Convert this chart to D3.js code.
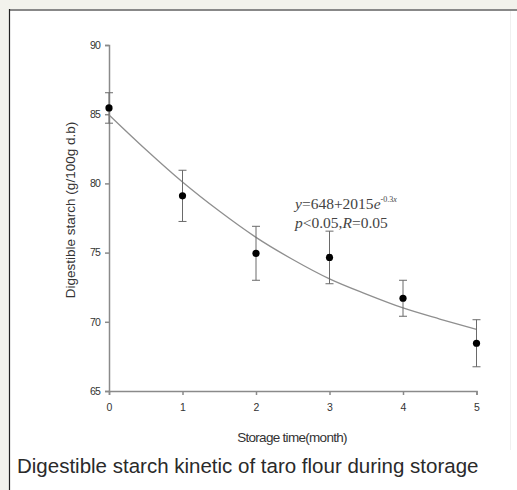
<!DOCTYPE html>
<html>
<head>
<meta charset="utf-8">
<script src="https://cdn.jsdelivr.net/npm/d3@7"></script>
<style>
  body { margin: 0; background: #f2f2ec; }
  svg { display: block; }
</style>
</head>
<body>
<svg id="chart" width="517" height="490"></svg>
<script>
// measured points (month, digestible starch, std error)
var months = [0, 1, 2, 3, 4, 5]
var starch = [85.45, 79.1, 74.95, 74.65, 71.7, 68.45]
var errs = [1.1, 1.85, 1.95, 1.9, 1.3, 1.7]

// fitted curve
var fitX = [0, 0.5, 1, 1.5, 2, 2.5, 3, 3.5, 4, 4.5, 5]
var fitY = [84.95, 82.45, 80.1, 78.0, 76.1, 74.5, 73.1, 72.0, 71.0, 70.2, 69.45]

var xTicks = [0, 1, 2, 3, 4, 5]
var yTicks = [65, 70, 75, 80, 85, 90]

var svg = d3.select('#chart')

// white panel with frame
svg.append('rect').attr('x', 9).attr('y', 9).attr('width', 508).attr('height', 481).attr('fill', '#fff')
svg.append('line').attr('x1', 9).attr('x2', 517).attr('y1', 10).attr('y2', 10)
  .attr('stroke', '#888').attr('stroke-width', 2)
svg.append('line').attr('x1', 9.5).attr('x2', 9.5).attr('y1', 9).attr('y2', 490)
  .attr('stroke', '#222').attr('stroke-width', 1.2)
svg.append('line').attr('x1', 510.5).attr('x2', 510.5).attr('y1', 11).attr('y2', 450)
  .attr('stroke', '#f0f0f0').attr('stroke-width', 1)

var x = d3.scaleLinear().domain([0, 5]).range([109, 476.5])
var y = d3.scaleLinear().domain([65, 90]).range([391, 45])

var axisColor = '#8a8a8a'
var sans = 'Liberation Sans, Arial, sans-serif'
var serif = 'Liberation Serif, Times New Roman, serif'

// y axis
var yAxis = svg.append('g').attr('transform', 'translate(109,0)')
  .call(d3.axisLeft(y).tickValues(yTicks).tickSize(4).tickPadding(5))
yAxis.select('.domain').attr('stroke', axisColor).attr('stroke-width', 1.5)
yAxis.selectAll('.tick line').attr('stroke', axisColor).attr('stroke-width', 1.5)
yAxis.selectAll('.tick text').attr('font-family', sans)
  .attr('font-size', 10.5).attr('fill', '#333').attr('letter-spacing', -0.8)

// x axis
var xAxis = svg.append('g').attr('transform', 'translate(0,391)')
  .call(d3.axisBottom(x).tickValues(xTicks).tickFormat(d3.format('d')).tickSize(4).tickPadding(9))
xAxis.select('.domain').attr('stroke', axisColor).attr('stroke-width', 1.5)
xAxis.selectAll('.tick line').attr('stroke', axisColor).attr('stroke-width', 1.5)
xAxis.selectAll('.tick text').attr('font-family', sans)
  .attr('font-size', 10.5).attr('fill', '#333')

// axis titles
svg.append('text')
  .attr('transform', 'translate(74.5,210) rotate(-90)')
  .attr('text-anchor', 'middle')
  .attr('font-family', sans)
  .attr('font-size', 13.5).attr('fill', '#333')
  .text('Digestible starch (g/100g d.b)')

svg.append('text')
  .attr('x', 292).attr('y', 442)
  .attr('text-anchor', 'middle')
  .attr('font-family', sans)
  .attr('font-size', 13.5).attr('letter-spacing', -0.7).attr('fill', '#333')
  .text('Storage time(month)')

// fitted curve
var line = d3.line()
  .x(function (d, i) { return x(fitX[i]) })
  .y(function (d) { return y(d) })
  .curve(d3.curveMonotoneX)
svg.append('path').datum(fitY)
  .attr('d', line)
  .attr('fill', 'none').attr('stroke', '#8f8f8f').attr('stroke-width', 1.3)

// error bars
var bars = svg.append('g').attr('stroke', '#6a6a6a').attr('stroke-width', 1)
months.forEach(function (m, i) {
  var cx = x(m)
  var top = y(starch[i] + errs[i]), bot = y(starch[i] - errs[i])
  bars.append('line').attr('x1', cx).attr('x2', cx).attr('y1', top).attr('y2', bot)
  bars.append('line').attr('x1', cx - 4).attr('x2', cx + 4).attr('y1', top).attr('y2', top)
  bars.append('line').attr('x1', cx - 4).attr('x2', cx + 4).attr('y1', bot).attr('y2', bot)
})

// points
svg.append('g').selectAll('circle')
  .data(months)
  .join('circle')
  .attr('cx', function (d) { return x(d) })
  .attr('cy', function (d, i) { return y(starch[i]) })
  .attr('r', 3.6)
  .attr('fill', '#000')

// equation
var eq = svg.append('text')
  .attr('x', 295).attr('y', 209)
  .attr('font-family', serif)
  .attr('font-size', 15.5).attr('fill', '#444')
eq.append('tspan').attr('font-style', 'italic').text('y')
eq.append('tspan').text('=648+2015')
eq.append('tspan').attr('font-style', 'italic').text('e')
eq.append('tspan').attr('font-size', 8).attr('dy', -7).text('-0.3')
eq.append('tspan').attr('font-size', 8).attr('font-style', 'italic').text('x')

var pv = svg.append('text')
  .attr('x', 295).attr('y', 228)
  .attr('font-family', serif)
  .attr('font-size', 15.5).attr('fill', '#444')
pv.append('tspan').attr('font-style', 'italic').text('p')
pv.append('tspan').text('<0.05,')
pv.append('tspan').attr('font-style', 'italic').text('R')
pv.append('tspan').text('=0.05')

// caption
svg.append('text')
  .attr('x', 17).attr('y', 473)
  .attr('font-family', sans)
  .attr('font-size', 20.5).attr('fill', '#2a2a2a')
  .text('Digestible starch kinetic of taro flour during storage')
</script>
</body>
</html>
